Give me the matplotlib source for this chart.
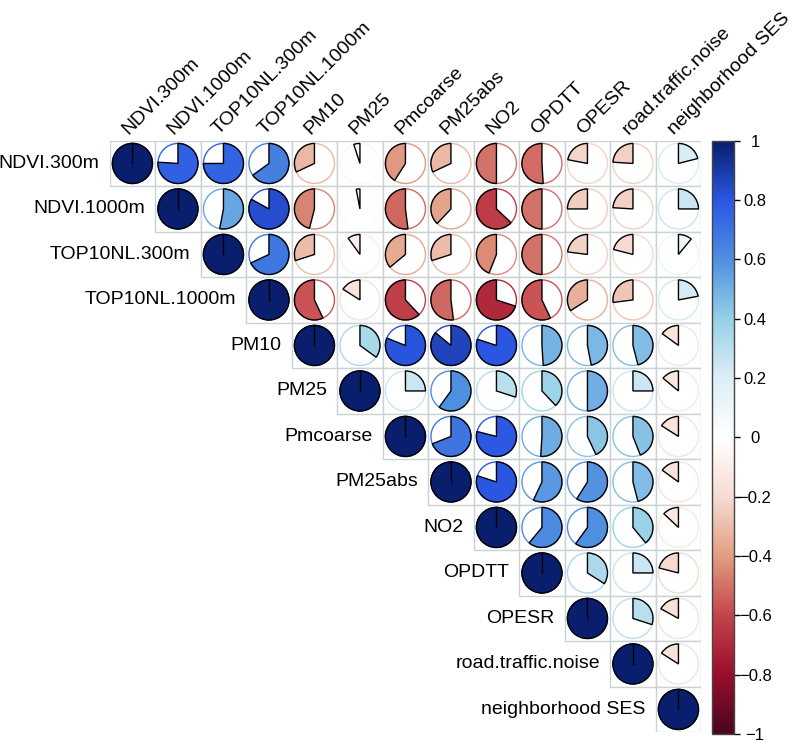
import matplotlib.pyplot as plt
import numpy as np
from matplotlib.patches import Wedge, Circle, Rectangle
from matplotlib.colors import LinearSegmentedColormap, Normalize
from matplotlib.cm import ScalarMappable

plt.rcParams['font.family'] = ['Liberation Sans', 'DejaVu Sans']

labels = ["NDVI.300m", "NDVI.1000m", "TOP10NL.300m", "TOP10NL.1000m", "PM10", "PM25",
          "Pmcoarse", "PM25abs", "NO2", "OPDTT", "OPESR", "road.traffic.noise",
          "neighborhood SES"]

# upper triangle, each row starts right of the diagonal
upper = [
    [0.76, 0.75, 0.65, -0.32, -0.05, -0.41, -0.32, -0.50, -0.51, -0.22, -0.24, 0.21],
    [0.53, 0.83, -0.46, -0.03, -0.52, -0.38, -0.63, -0.50, -0.25, -0.24, 0.25],
    [0.68, -0.30, -0.10, -0.36, -0.30, -0.44, -0.50, -0.23, -0.21, 0.11],
    [-0.57, -0.16, -0.62, -0.52, -0.70, -0.57, -0.34, -0.27, 0.22],
    [0.35, 0.81, 0.86, 0.80, 0.49, 0.47, 0.46, -0.15],
    [0.25, 0.60, 0.30, 0.38, 0.50, 0.25, -0.14],
    [0.69, 0.79, 0.51, 0.43, 0.44, -0.16],
    [0.80, 0.57, 0.59, 0.46, -0.15],
    [0.61, 0.60, 0.39, -0.13],
    [0.34, 0.25, -0.21],
    [0.30, -0.17],
    [-0.16],
]

bar_ticks = [1, 0.8, 0.6, 0.4, 0.2, 0, -0.2, -0.4, -0.6, -0.8, -1]

n = len(labels)
corr = np.eye(n)
for i, row in enumerate(upper):
    for k, v in enumerate(row):
        corr[i, i + 1 + k] = v

# palette
cmap = LinearSegmentedColormap.from_list("rdbu_corr", [
    (0.0, "#4A0520"), (0.1, "#9A0E2B"), (0.2, "#C4454C"), (0.3, "#E29E83"),
    (0.4, "#F6DCD2"), (0.5, "#FFFFFF"), (0.6, "#DCEEF6"), (0.7, "#96D0E6"),
    (0.8, "#4F8FE0"), (0.9, "#2B57E3"), (1.0, "#0A1E6E")])
norm = Normalize(-1, 1)

fig = plt.figure(figsize=(7.92, 7.43), dpi=100)
W, H = 792, 743
gx0, gy0, cell = 109.7, 140.7, 45.5
ax = fig.add_axes([gx0 / W, (H - gy0 - n * cell) / H, n * cell / W, n * cell / H])
ax.set_xlim(0, n)
ax.set_ylim(0, n)
ax.axis('off')

grid_col = '#C9D3D5'
rad = 0.44
for i in range(n):
    for j in range(i, n):
        x0, y0 = j, n - 1 - i
        cx, cy = x0 + 0.5, y0 + 0.5
        ax.add_patch(Rectangle((x0, y0), 1, 1, facecolor='white', edgecolor=grid_col, lw=1.0))
        r = corr[i, j]
        col = cmap(norm(r))
        ax.add_patch(Circle((cx, cy), rad, facecolor='none', edgecolor=col, lw=1.0))
        if abs(r) >= 0.999:
            ax.add_patch(Circle((cx, cy), rad, facecolor=col, edgecolor='black', lw=1.0))
            ax.plot([cx, cx], [cy, cy + rad], color='black', lw=1.0)
        elif r > 0:
            ax.add_patch(Wedge((cx, cy), rad, 90 - 360 * r, 90, facecolor=col,
                               edgecolor='black', lw=1.0))
        else:
            ax.add_patch(Wedge((cx, cy), rad, 90, 90 - 360 * r, facecolor=col,
                               edgecolor='black', lw=1.0))
    # row label left of the diagonal cell
    ax.text(i - 0.22, n - 0.5 - i, labels[i], ha='right', va='center', fontsize=14)
    # column label above the grid
    ax.text(i + 0.40, n + 0.13, labels[i], ha='left', va='baseline', rotation=45,
            rotation_mode='anchor', fontsize=14)

cax = fig.add_axes([712.3 / W, (H - 734) / H, 22 / W, (734 - 140.7) / H])
cb = fig.colorbar(ScalarMappable(norm=norm, cmap=cmap), cax=cax)
cb.set_ticks(bar_ticks)
cb.set_ticklabels([f"{t:g}".replace('-', '\u2212') for t in bar_ticks])
cb.outline.set_edgecolor('#444444')
cb.outline.set_linewidth(1.0)
cax.tick_params(axis='y', length=4, width=1, pad=11, labelsize=12)
for lab in cax.get_yticklabels():
    lab.set_ha('center')

fig.savefig('out.png', dpi=100)
